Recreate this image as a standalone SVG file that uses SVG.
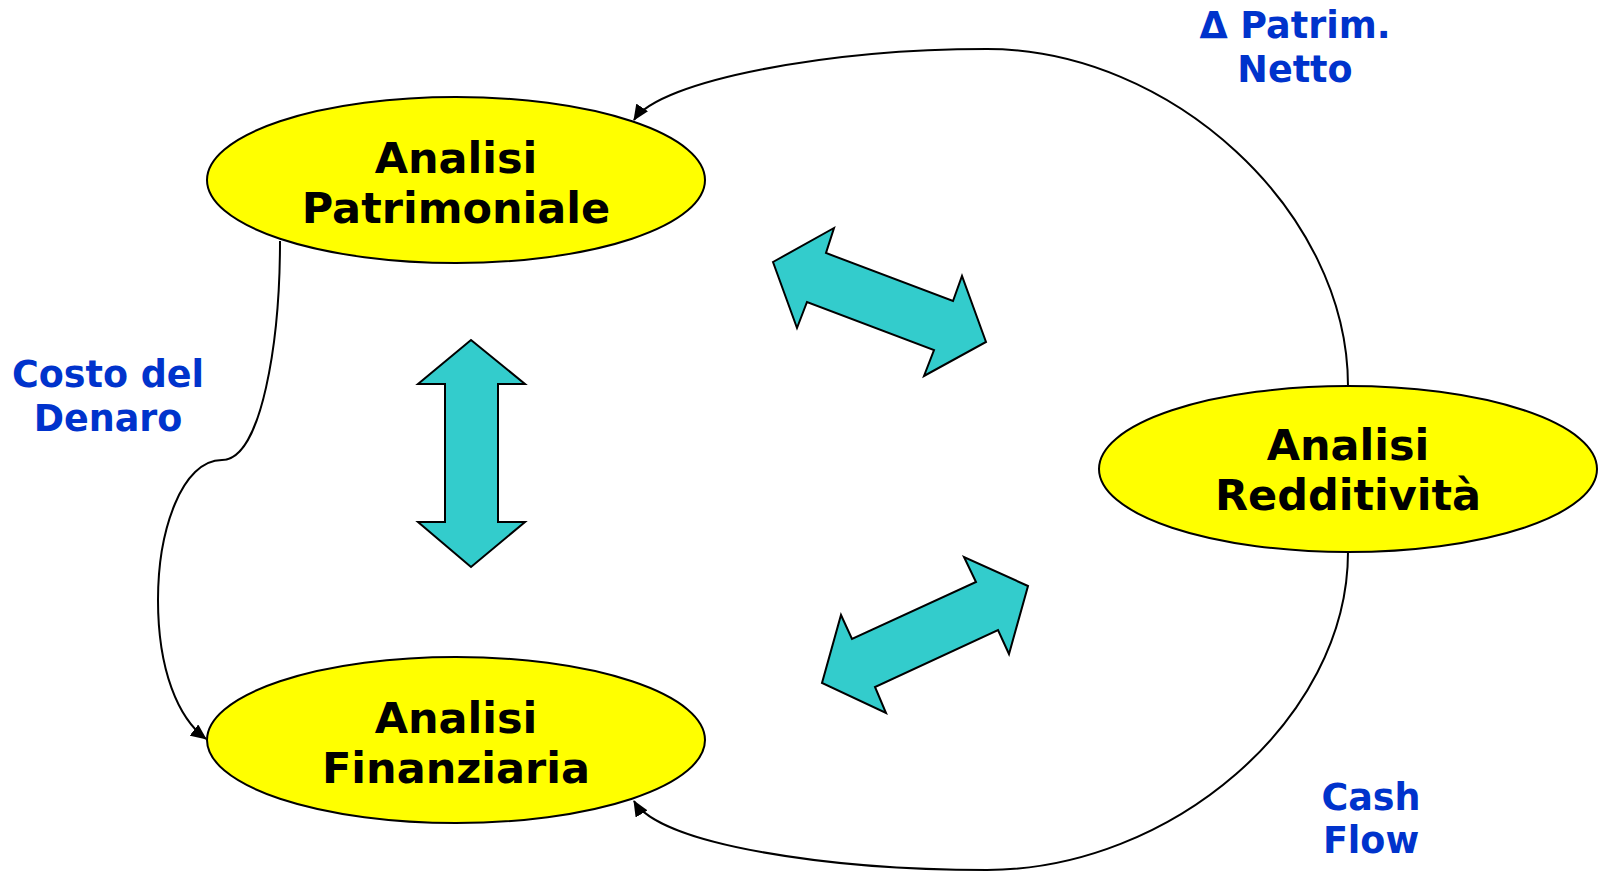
<svg xmlns="http://www.w3.org/2000/svg" width="1604" height="872" viewBox="0 0 1604 872">
<defs>
<style>
.node ellipse{fill:#FFFF00;stroke:#000;stroke-width:2}
.node text{font-family:"DejaVu Sans",Verdana,sans-serif;font-weight:bold;font-size:43px;fill:#000;text-anchor:middle}
.lbl{font-family:"DejaVu Sans",Verdana,sans-serif;font-weight:bold;font-size:36.5px;fill:#0033CC;text-anchor:middle}
.conn{fill:none;stroke:#000;stroke-width:2}
.blk{fill:#33CCCC;stroke:#000;stroke-width:2;stroke-linejoin:miter}
</style>
<marker id="ah" markerUnits="userSpaceOnUse" markerWidth="16" markerHeight="14" refX="15" refY="7" orient="auto">
<path d="M0,0 L16,7 L0,14 z" fill="#000"/>
</marker>
</defs>
<rect width="1604" height="872" fill="#fff"/>
<g id="connectors">
<path class="conn" d="M1348,386 C1348,210 1170,49 987,49 C830,49 660,80 634,120" marker-end="url(#ah)"/>
<path class="conn" d="M1348,552 C1348,720 1170,870 987,870 C830,870 660,845 634,801" marker-end="url(#ah)"/>
<path class="conn" d="M280,241 C280,340 262,460 222,460 C182,460 158,530 158,600 C158,670 178,718 206,739" marker-end="url(#ah)"/>
</g>
<g id="block-arrows">
<polygon class="blk" points="471,340 525,384 498,384 498,522 525,522 471,567 418,522 445,522 445,384 418,384"/>
<polygon class="blk" points="773,262 834,228 826,253 953,301 962,276 986,342 924,376 934,350 807,302 797,328"/>
<polygon class="blk" points="1028,586 964,557 976,582 852,639 841,615 822,683 886,713 875,687 998,630 1009,654"/>
</g>
<g id="node-patrimoniale" class="node">
<ellipse cx="456" cy="180" rx="249" ry="83"/>
<text x="456" y="173">Analisi</text>
<text x="456" y="223">Patrimoniale</text>
</g>
<g id="node-finanziaria" class="node">
<ellipse cx="456" cy="740" rx="249" ry="83"/>
<text x="456" y="733">Analisi</text>
<text x="456" y="783">Finanziaria</text>
</g>
<g id="node-redditivita" class="node">
<ellipse cx="1348" cy="469" rx="249" ry="83"/>
<text x="1348" y="460">Analisi</text>
<text x="1348" y="510">Redditività</text>
</g>
<g id="labels">
<text class="lbl" x="1295" y="38">Δ Patrim.</text>
<text class="lbl" x="1295" y="82">Netto</text>
<text class="lbl" x="108" y="387">Costo del</text>
<text class="lbl" x="108" y="431">Denaro</text>
<text class="lbl" x="1371" y="810">Cash</text>
<text class="lbl" x="1371" y="853">Flow</text>
</g>
</svg>
